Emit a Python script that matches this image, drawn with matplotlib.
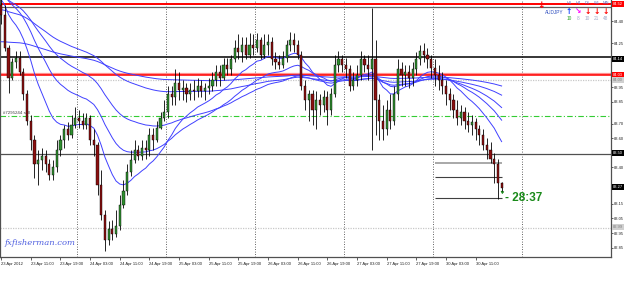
import matplotlib
matplotlib.use("Agg")
import matplotlib.pyplot as plt
import matplotlib.transforms as mtransforms
import numpy as np

# AUDJPY H1 bars, 23 Apr 2012 03:00 .. 30 Apr 2012
opens = [84.51, 84.44, 84.22, 84.01, 84.12, 84.15, 84.05, 83.90,
         83.72, 83.59, 83.42, 83.45, 83.48, 83.42, 83.35, 83.40,
         83.52, 83.59, 83.66, 83.62, 83.69, 83.74, 83.72, 83.69,
         83.74, 83.59, 83.55, 83.28, 83.07, 82.90, 82.98, 82.94,
         83.00, 83.14, 83.24, 83.37, 83.45, 83.52, 83.48, 83.53,
         83.52, 83.62, 83.59, 83.67, 83.74, 83.78, 83.90, 83.88,
         83.98, 83.93, 83.94, 83.90, 83.93, 83.92, 83.96, 83.92,
         83.94, 83.96, 84.00, 84.05, 84.01, 84.10, 84.07, 84.14,
         84.22, 84.19, 84.24, 84.17, 84.24, 84.22, 84.27, 84.17,
         84.24, 84.26, 84.14, 84.12, 84.10, 84.15, 84.24, 84.27,
         84.24, 84.17, 83.96, 83.86, 83.90, 83.79, 83.86, 83.83,
         83.88, 83.79, 83.90, 84.10, 84.14, 84.10, 84.07, 83.96,
         84.00, 84.03, 84.14, 84.10, 84.07, 84.14, 83.86, 83.72,
         83.66, 83.79, 83.72, 83.90, 84.07, 84.03, 84.05, 84.01,
         84.07, 84.14, 84.20, 84.17, 84.14, 84.08, 84.03, 84.00,
         83.96, 83.90, 83.86, 83.79, 83.74, 83.78, 83.72, 83.69,
         83.71, 83.66, 83.62, 83.55, 83.52, 83.46, 83.42, 83.29]
highs = [84.58, 84.51, 84.24, 84.15, 84.20, 84.20, 84.08, 83.93,
         83.76, 83.62, 83.52, 83.53, 83.52, 83.46, 83.45, 83.59,
         83.62, 83.69, 83.71, 83.76, 83.81, 83.79, 83.77, 83.77,
         83.76, 83.66, 83.57, 83.38, 83.11, 83.03, 83.04, 83.11,
         83.21, 83.31, 83.42, 83.52, 83.59, 83.55, 83.59, 83.59,
         83.67, 83.67, 83.72, 83.78, 83.86, 83.96, 83.96, 84.07,
         84.05, 84.00, 83.98, 83.98, 84.00, 84.01, 84.00, 83.98,
         84.01, 84.05, 84.10, 84.10, 84.15, 84.15, 84.17, 84.27,
         84.31, 84.29, 84.29, 84.32, 84.31, 84.32, 84.29, 84.31,
         84.31, 84.29, 84.19, 84.17, 84.20, 84.27, 84.33, 84.32,
         84.27, 84.20, 84.00, 83.93, 83.93, 83.92, 83.90, 83.93,
         83.92, 83.94, 84.17, 84.20, 84.17, 84.15, 84.10, 84.05,
         84.10, 84.20, 84.17, 84.17, 84.49, 84.27, 83.90, 83.83,
         83.86, 83.90, 83.96, 84.14, 84.12, 84.10, 84.10, 84.12,
         84.19, 84.24, 84.25, 84.22, 84.17, 84.14, 84.10, 84.05,
         84.00, 83.94, 83.90, 83.86, 83.83, 83.81, 83.78, 83.76,
         83.74, 83.69, 83.66, 83.60, 83.57, 83.50, 83.46, 83.30]
lows = [84.38, 84.20, 83.91, 84.00, 84.08, 84.03, 83.86, 83.69,
        83.52, 83.33, 83.28, 83.38, 83.37, 83.31, 83.31, 83.37,
        83.48, 83.53, 83.59, 83.60, 83.67, 83.67, 83.66, 83.66,
        83.55, 83.48, 83.21, 83.04, 82.83, 82.87, 82.90, 82.92,
        82.97, 83.12, 83.21, 83.34, 83.43, 83.45, 83.45, 83.46,
        83.48, 83.52, 83.57, 83.66, 83.72, 83.74, 83.83, 83.83,
        83.86, 83.86, 83.85, 83.86, 83.86, 83.88, 83.88, 83.86,
        83.90, 83.92, 83.96, 83.96, 84.00, 84.03, 84.03, 84.12,
        84.14, 84.12, 84.14, 84.15, 84.17, 84.19, 84.14, 84.15,
        84.17, 84.10, 84.07, 84.07, 84.08, 84.12, 84.20, 84.19,
        84.14, 83.93, 83.79, 83.72, 83.69, 83.66, 83.76, 83.78,
        83.69, 83.76, 83.88, 84.05, 84.05, 84.01, 83.92, 83.93,
        83.96, 84.00, 84.05, 84.00, 83.52, 83.62, 83.59, 83.59,
        83.62, 83.66, 83.69, 83.86, 83.96, 83.96, 83.94, 83.96,
        84.03, 84.10, 84.12, 84.08, 84.01, 83.96, 83.93, 83.90,
        83.83, 83.79, 83.74, 83.69, 83.69, 83.66, 83.64, 83.62,
        83.59, 83.55, 83.52, 83.46, 83.43, 83.29, 83.18, 83.24]
closes = [84.44, 84.22, 84.01, 84.12, 84.15, 84.05, 83.90, 83.72,
          83.59, 83.42, 83.45, 83.48, 83.42, 83.35, 83.40, 83.52,
          83.59, 83.66, 83.62, 83.69, 83.74, 83.72, 83.69, 83.74,
          83.59, 83.55, 83.28, 83.07, 82.90, 82.98, 82.94, 83.00,
          83.14, 83.24, 83.37, 83.45, 83.52, 83.48, 83.53, 83.52,
          83.62, 83.59, 83.67, 83.74, 83.78, 83.90, 83.88, 83.98,
          83.93, 83.94, 83.90, 83.93, 83.92, 83.96, 83.92, 83.94,
          83.96, 84.00, 84.05, 84.01, 84.10, 84.07, 84.14, 84.22,
          84.19, 84.24, 84.17, 84.24, 84.22, 84.27, 84.17, 84.24,
          84.26, 84.14, 84.12, 84.10, 84.15, 84.24, 84.27, 84.24,
          84.17, 83.96, 83.86, 83.90, 83.79, 83.86, 83.83, 83.88,
          83.79, 83.90, 84.10, 84.14, 84.10, 84.07, 83.96, 84.00,
          84.03, 84.14, 84.10, 84.07, 84.14, 83.86, 83.72, 83.66,
          83.79, 83.72, 83.90, 84.07, 84.03, 84.05, 84.01, 84.07,
          84.14, 84.20, 84.17, 84.14, 84.08, 84.03, 84.00, 83.96,
          83.90, 83.86, 83.79, 83.74, 83.78, 83.72, 83.69, 83.71,
          83.66, 83.62, 83.55, 83.52, 83.46, 83.42, 83.29, 83.26]

# moving averages on the chart: period and value at the first bar
ma_periods = [15, 30, 50, 100, 200]
ma_start = [84.55, 84.60, 84.58, 84.48, 84.26]

date_labels = ["23 Apr 2012", "23 Apr 11:00", "23 Apr 19:00", "24 Apr 03:00",
               "24 Apr 11:00", "24 Apr 19:00", "25 Apr 03:00", "25 Apr 11:00",
               "25 Apr 19:00", "26 Apr 03:00", "26 Apr 11:00", "26 Apr 19:00",
               "27 Apr 03:00", "27 Apr 11:00", "27 Apr 19:00", "30 Apr 03:00",
               "30 Apr 11:00"]
date_label_bars = [0, 8, 16, 24, 32, 40, 48, 56, 64, 72, 80, 88, 96, 104, 112, 120, 128]
day_sep_bars = [20.5, 44.5, 68.5, 92.5, 116.5, 140.5]

price_ticks = [84.40, 84.25, 83.95, 83.85, 83.70, 83.60, 83.40, 83.15, 83.05, 82.95, 82.85]
# (price, box colour, text colour, label)
price_boxes = [(84.518, "#ff0000", "white", "84.52"),
               (84.142, "black", "white", "84.14"),
               (84.032, "#ff0000", "white", "84.03"),
               (83.998, "#d0d0d0", "#808080", "84.00"),
               (83.498, "black", "white", "83.50"),
               (83.265, "black", "white", "83.27"),
               (82.991, "#d0d0d0", "#808080", "82.99")]

sl_price = 84.518
sl2_price = 84.498
level_hi = 84.156
level_red = 84.032
level_dot1 = 83.998
order_price = 83.751
level_lo = 83.491
level_dot2 = 82.984
short_levels = [83.430, 83.334, 83.190]
short_from_bar = 117

W, H = 625, 295
fig = plt.figure(figsize=(W / 100, H / 100), dpi=100)
ax = fig.add_axes([0, 38 / H, 611 / W, 257 / H])

n = len(closes)
x = np.arange(n)
o = np.array(opens)
c = np.array(closes)
hi = np.array(highs)
lo = np.array(lows)

ax.set_xlim(-0.3, 164.5)
ax.set_ylim(84.546 - 257 / 146, 84.546)

# day separators
for b in day_sep_bars:
    ax.axvline(b, color="#303030", lw=0.6, ls=(0, (1, 2)), zorder=1)

# horizontal levels
ax.axhline(sl_price, color="#ff0000", lw=1.4, zorder=2)
ax.axhline(sl2_price, color="#606060", lw=0.9, zorder=2)
ax.axhline(level_hi, color="black", lw=1.1, zorder=2)
ax.axhline(level_red + 0.004, color="#ff9090", lw=1.6, zorder=2)
ax.axhline(level_red, color="#ff0000", lw=1.1, zorder=2)
ax.axhline(level_dot1, color="#c8c8c8", lw=0.9, ls=(0, (1, 1)), zorder=2)
ax.axhline(order_price, color="#33cc33", lw=0.8, ls=(0, (5, 2, 1, 2)), zorder=2)
ax.axhline(level_lo, color="#505050", lw=0.9, zorder=2)
ax.axhline(level_dot2, color="#c8c8c8", lw=0.9, ls=(0, (1, 1)), zorder=2)
ax.hlines(short_levels[0], short_from_bar, n - 1, color="#a8a8a8", lw=1.4, zorder=2)
ax.hlines(short_levels[1:], short_from_bar, n - 1, color="#404040", lw=0.8, zorder=2)

# moving averages
for period, start in zip(ma_periods, ma_start):
    k = 2 / (period + 1)
    ma = [start]
    for v in closes[1:]:
        ma.append(ma[-1] + k * (v - ma[-1]))
    ax.plot(x, ma, color="#4040ff", lw=0.7, zorder=3)

# candles
up = c >= o
ax.vlines(x, lo, hi, color="black", lw=0.6, zorder=4)
body = np.maximum(np.abs(c - o), 0.004)
ax.bar(x[up], body[up], bottom=o[up], width=0.58, color="#2f8f2f",
       edgecolor="black", linewidth=0.3, zorder=5)
ax.bar(x[~up], body[~up], bottom=c[~up], width=0.58, color="#8b1010",
       edgecolor="black", linewidth=0.3, zorder=5)

# axes look
ax.spines["top"].set_visible(False)
for s in ["left", "right", "bottom"]:
    ax.spines[s].set_color("#505050")
    ax.spines[s].set_linewidth(0.9)
ax.yaxis.tick_right()
ax.set_yticks(price_ticks)
ax.set_yticklabels(["%.2f" % p for p in price_ticks])
ax.tick_params(axis="y", length=1.5, width=0.5, pad=0.5, labelsize=2.9, colors="#202020")
ax.set_xticks(date_label_bars)
ax.set_xticklabels(date_labels, ha="left")
ax.tick_params(axis="x", length=2.5, width=0.5, pad=1, labelsize=3.0, colors="#202020")
for lab in ax.get_xticklabels() + ax.get_yticklabels():
    lab.set_family("Liberation Sans")

trans = mtransforms.blended_transform_factory(ax.transAxes, ax.transData)
for p, fc, tc, t in price_boxes:
    ax.text(1.003, p, t, transform=trans, fontsize=2.9, color=tc, va="center", ha="left",
            family="Liberation Sans", zorder=10, clip_on=False,
            bbox=dict(boxstyle="square,pad=0.2", fc=fc, ec=fc, lw=0))

# order label
ax.text(0.5, order_price + 0.01, "#7295244 sell", fontsize=3.2, color="#404040",
        family="Liberation Sans", va="bottom", ha="left")

# countdown label
ax.annotate("", xy=(n - 1.3, 83.24), xytext=(n - 0.3, 83.22),
            arrowprops=dict(arrowstyle="-|>", color="#1a8a1a", lw=0.6, mutation_scale=4))
ax.text(n - 0.2, 83.19, "- 28:37", fontsize=8.5, fontweight="bold", color="#1a8a1a",
        family="Liberation Sans", va="center", ha="left")

# watermark
ax.text(0.8, 82.88, "fxfisherman.com", fontsize=6, style="italic", color="#5060e0",
        family="DejaVu Serif", va="center", ha="left")


def px(xp, yp):
    return xp / W, 1 - yp / H


# top right status panel
fig.text(*px(541, 5), "\u2193", fontsize=6.5, fontweight="bold", color="#ff0000",
         ha="center", va="center")
fig.text(*px(545, 12), "AUDJPY", fontsize=3.4, color="#3050c0", ha="left", va="center",
         family="Liberation Sans")
tf_names = ["H1", "H4", "D1", "W1", "MN"]
tf_arrows = ["\u2191", "\u2198", "\u2193", "\u2193", "\u2193"]
tf_colors = ["#1040ff", "#ff00ff", "#ff0000", "#ff0000", "#ff0000"]
tf_counts = ["10", "8", "10", "21", "48"]
tf_count_colors = ["#20a020", "#a0a8c8", "#a0a8c8", "#a0a8c8", "#a0a8c8"]
for i in range(5):
    xx = 569 + 9.2 * i
    fig.text(*px(xx, 3.2), tf_names[i], fontsize=2.9, color="#6070c0", ha="center",
             va="center", family="Liberation Sans")
    fig.text(*px(xx, 11), tf_arrows[i], fontsize=5.5, fontweight="bold", color=tf_colors[i],
             ha="center", va="center")
    fig.text(*px(xx, 18), tf_counts[i], fontsize=3.4, color=tf_count_colors[i], ha="center",
             va="center", family="Liberation Sans")

fig.savefig("out.png", dpi=100)
